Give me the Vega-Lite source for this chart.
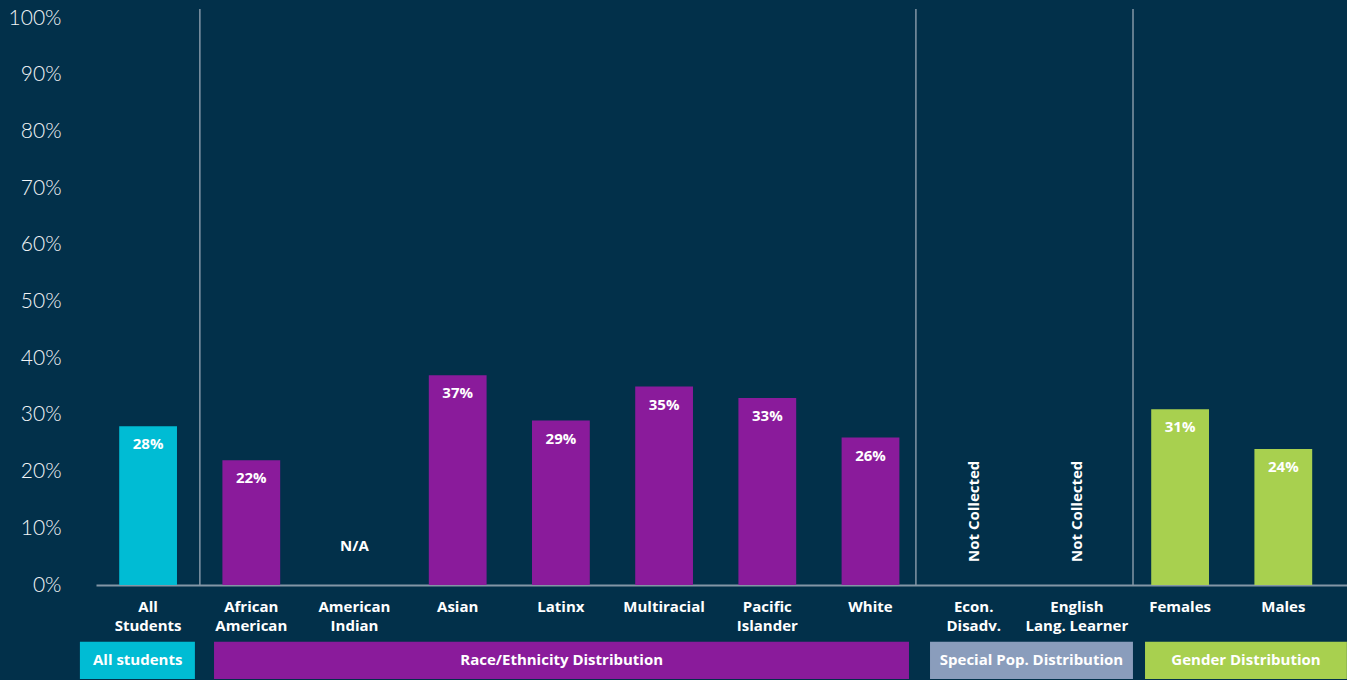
{
  "$schema": "https://vega.github.io/schema/vega-lite/v6.json",
  "width": 1251,
  "height": 576,
  "autosize": "none",
  "padding": {"left": 96, "top": 9, "right": 0, "bottom": 95},
  "background": "#02304a",
  "config": {"view": {"stroke": null}, "font": "Open Sans", "text": {"font": "Open Sans"}},
  "datasets": {
    "bars": [
      {"category": "All Students", "value": 0.28, "group": "All", "note": null},
      {"category": "African American", "value": 0.22, "group": "Race", "note": null},
      {"category": "American Indian", "value": null, "group": "Race", "note": "N/A"},
      {"category": "Asian", "value": 0.37, "group": "Race", "note": null},
      {"category": "Latinx", "value": 0.29, "group": "Race", "note": null},
      {"category": "Multiracial", "value": 0.35, "group": "Race", "note": null},
      {"category": "Pacific Islander", "value": 0.33, "group": "Race", "note": null},
      {"category": "White", "value": 0.26, "group": "Race", "note": null},
      {"category": "Econ. Disadv.", "value": null, "group": "Special", "note": "Not Collected"},
      {"category": "English Lang. Learner", "value": null, "group": "Special", "note": "Not Collected"},
      {"category": "Females", "value": 0.31, "group": "Gender", "note": null},
      {"category": "Males", "value": 0.24, "group": "Gender", "note": null}
    ],
    "separators": [
      {"category": "African American"},
      {"category": "Econ. Disadv."},
      {"category": "Females"}
    ],
    "groups": [
      {"group": "All", "label": "All students", "start": "All Students", "end": "All Students"},
      {"group": "Race", "label": "Race/Ethnicity Distribution", "start": "African American", "end": "White"},
      {"group": "Special", "label": "Special Pop. Distribution", "start": "Econ. Disadv.", "end": "English Lang. Learner"},
      {"group": "Gender", "label": "Gender Distribution", "start": "Females", "end": "Males"}
    ]
  },
  "resolve": {"scale": {"x": "shared", "y": "shared", "color": "shared"}},
  "layer": [
    {
      "data": {"name": "separators"},
      "transform": [{"filter": "datum.category == 'African American'"}],
      "mark": {"type": "rule", "color": "#8396a6", "strokeWidth": 1.5},
      "encoding": {
        "x": {"field": "category", "type": "nominal", "bandPosition": -0.39,
          "scale": {"domain": ["All Students", "African American", "American Indian", "Asian", "Latinx", "Multiracial", "Pacific Islander", "White", "Econ. Disadv.", "English Lang. Learner", "Females", "Males"],
            "paddingInner": 0.44, "paddingOuter": 0.281, "align": 0.4},
          "axis": {
            "title": null,
            "labelExpr": "datum.label == 'All Students' ? ['All','Students'] : datum.label == 'African American' ? ['African','American'] : datum.label == 'American Indian' ? ['American','Indian'] : datum.label == 'Pacific Islander' ? ['Pacific','Islander'] : datum.label == 'Econ. Disadv.' ? ['Econ.','Disadv.'] : datum.label == 'English Lang. Learner' ? ['English','Lang. Learner'] : datum.label",
            "labelAngle": 0,
            "labelColor": "#ffffff",
            "labelFont": "Open Sans",
            "labelFontWeight": "bold",
            "labelFontSize": 15,
            "labelLineHeight": 19,
            "labelPadding": 14,
            "labelBaseline": "top",
            "labelLimit": 200,
            "ticks": false,
            "domainColor": "#8396a6",
            "domainWidth": 2
          }
        }
      }
    },
    {
      "data": {"name": "separators"},
      "transform": [{"filter": "datum.category == 'Econ. Disadv.'"}],
      "mark": {"type": "rule", "color": "#8396a6", "strokeWidth": 1.5},
      "encoding": {"x": {"field": "category", "type": "nominal", "bandPosition": -0.5}}
    },
    {
      "data": {"name": "separators"},
      "transform": [{"filter": "datum.category == 'Females'"}],
      "mark": {"type": "rule", "color": "#8396a6", "strokeWidth": 1.5},
      "encoding": {"x": {"field": "category", "type": "nominal", "bandPosition": -0.315}}
    },
    {
      "data": {"name": "bars"},
      "transform": [{"filter": "datum.value != null"}],
      "mark": {"type": "bar"},
      "encoding": {
        "x": {"field": "category", "type": "nominal"},
        "y": {"field": "value", "type": "quantitative",
          "scale": {"domain": [0, 1.016], "nice": false},
          "axis": {
            "title": null,
            "format": ".0%",
            "values": [0, 0.1, 0.2, 0.3, 0.4, 0.5, 0.6, 0.7, 0.8, 0.9, 1.0],
            "grid": false,
            "domain": false,
            "ticks": false,
            "labelPadding": 35,
            "labelColor": "#f2f5f7",
            "labelFontSize": 21,
            "labelFont": "Lato",
            "labelFontWeight": 300
          }
        },
        "color": {"field": "group", "type": "nominal",
          "scale": {"domain": ["All", "Race", "Special", "Gender"], "range": ["#00bcd4", "#8a1b9b", "#8a9dbc", "#a8d04f"]},
          "legend": null}
      }
    },
    {
      "data": {"name": "bars"},
      "transform": [{"filter": "datum.value != null"}],
      "mark": {"type": "text", "color": "#ffffff", "fontWeight": "bold", "fontSize": 15, "baseline": "middle", "dy": 18},
      "encoding": {
        "x": {"field": "category", "type": "nominal"},
        "y": {"field": "value", "type": "quantitative"},
        "text": {"field": "value", "type": "quantitative", "format": ".0%"}
      }
    },
    {
      "data": {"name": "bars"},
      "transform": [{"filter": "datum.note == 'N/A'"}],
      "mark": {"type": "text", "color": "#ffffff", "fontWeight": "bold", "fontSize": 15, "baseline": "middle", "dy": -39},
      "encoding": {
        "x": {"field": "category", "type": "nominal"},
        "y": {"datum": 0},
        "text": {"field": "note"}
      }
    },
    {
      "data": {"name": "bars"},
      "transform": [{"filter": "datum.note == 'Not Collected'"}],
      "mark": {"type": "text", "color": "#ffffff", "fontWeight": "bold", "fontSize": 15, "baseline": "middle", "align": "left", "angle": 270, "dx": 23},
      "encoding": {
        "x": {"field": "category", "type": "nominal"},
        "y": {"datum": 0},
        "text": {"field": "note"}
      }
    },
    {
      "data": {"name": "groups"},
      "transform": [{"filter": "datum.group == 'All'"}],
      "layer": [
        {"mark": {"type": "rect"},
          "encoding": {
            "x": {"field": "start", "type": "nominal", "bandPosition": -0.68},
            "x2": {"field": "end", "bandPosition": 1.31},
            "y": {"datum": -0.1}, "y2": {"datum": -0.166},
            "color": {"field": "group", "type": "nominal"}
          }},
        {"mark": {"type": "text", "color": "#ffffff", "fontWeight": "bold", "fontSize": 15, "baseline": "middle"},
          "encoding": {
            "x": {"field": "start", "type": "nominal", "bandPosition": 0.32},
            "y": {"datum": -0.133},
            "text": {"field": "label"}
          }}
      ]
    },
    {
      "data": {"name": "groups"},
      "transform": [{"filter": "datum.group == 'Race'"}],
      "layer": [
        {"mark": {"type": "rect"},
          "encoding": {
            "x": {"field": "start", "type": "nominal", "bandPosition": -0.145},
            "x2": {"field": "end", "bandPosition": 1.166},
            "y": {"datum": -0.1}, "y2": {"datum": -0.166},
            "color": {"field": "group", "type": "nominal"}
          }},
        {"mark": {"type": "text", "color": "#ffffff", "fontWeight": "bold", "fontSize": 15, "baseline": "middle"},
          "encoding": {
            "x": {"field": "start", "type": "nominal", "bandPosition": 5.87},
            "y": {"datum": -0.133},
            "text": {"field": "label"}
          }}
      ]
    },
    {
      "data": {"name": "groups"},
      "transform": [{"filter": "datum.group == 'Special'"}],
      "layer": [
        {"mark": {"type": "rect"},
          "encoding": {
            "x": {"field": "start", "type": "nominal", "bandPosition": -0.256},
            "x2": {"field": "end", "bandPosition": 1.47},
            "y": {"datum": -0.1}, "y2": {"datum": -0.166},
            "color": {"field": "group", "type": "nominal"}
          }},
        {"mark": {"type": "text", "color": "#ffffff", "fontWeight": "bold", "fontSize": 15, "baseline": "middle"},
          "encoding": {
            "x": {"field": "start", "type": "nominal", "bandPosition": 1.5},
            "y": {"datum": -0.133},
            "text": {"field": "label"}
          }}
      ]
    },
    {
      "data": {"name": "groups"},
      "transform": [{"filter": "datum.group == 'Gender'"}],
      "layer": [
        {"mark": {"type": "rect"},
          "encoding": {
            "x": {"field": "start", "type": "nominal", "bandPosition": -0.107},
            "x2": {"field": "end", "bandPosition": 1.6},
            "y": {"datum": -0.1}, "y2": {"datum": -0.166},
            "color": {"field": "group", "type": "nominal"}
          }},
        {"mark": {"type": "text", "color": "#ffffff", "fontWeight": "bold", "fontSize": 15, "baseline": "middle"},
          "encoding": {
            "x": {"field": "start", "type": "nominal", "bandPosition": 1.64},
            "y": {"datum": -0.133},
            "text": {"field": "label"}
          }}
      ]
    }
  ]
}
